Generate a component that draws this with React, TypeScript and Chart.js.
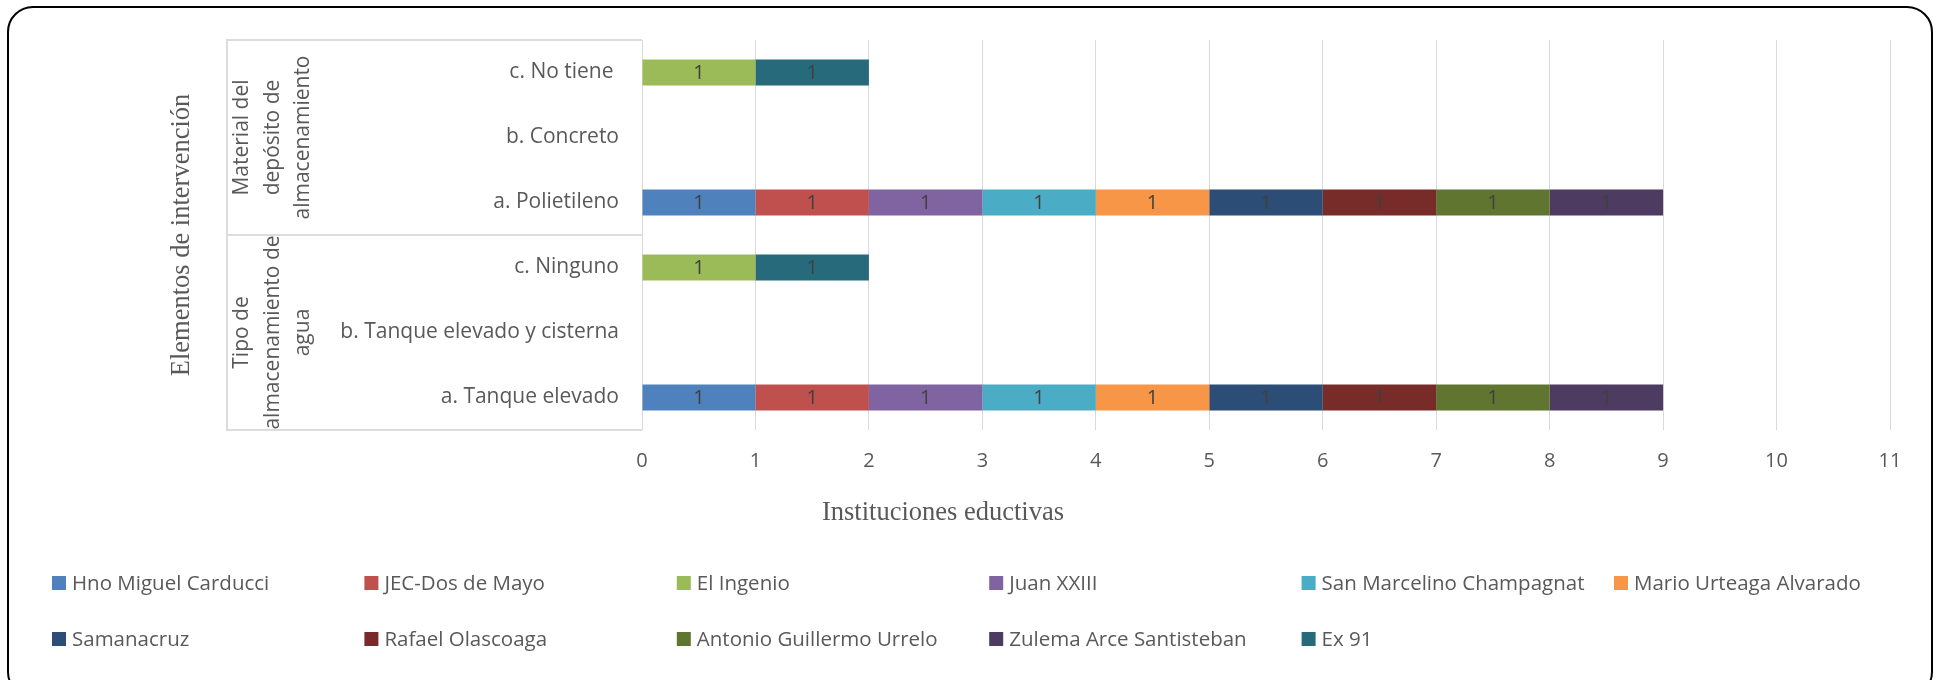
import React, { useEffect, useRef } from "react";
import { Chart, registerables } from "chart.js";

Chart.register(...registerables);

// ---- data ----
const categories = [
  "c. No tiene ",
  "b. Concreto",
  "a. Polietileno",
  "c. Ninguno",
  "b. Tanque elevado y cisterna",
  "a. Tanque elevado",
];
const groupLines1 = ["Material del", "depósito de", "almacenamiento"];
const groupLines2 = ["Tipo de", "almacenamiento de", "agua"];
const groupSizes = [3, 3];

const seriesNames = [
  "Hno Miguel Carducci",
  "JEC-Dos de Mayo",
  "El Ingenio",
  "Juan XXIII",
  "San Marcelino Champagnat",
  "Mario Urteaga Alvarado",
  "Samanacruz",
  "Rafael Olascoaga",
  "Antonio Guillermo Urrelo",
  "Zulema Arce Santisteban",
  "Ex 91",
];
const hnoMiguelCarducci = [null, null, 1, null, null, 1];
const jecDosDeMayo = [null, null, 1, null, null, 1];
const elIngenio = [1, null, null, 1, null, null];
const juanXXIII = [null, null, 1, null, null, 1];
const sanMarcelino = [null, null, 1, null, null, 1];
const marioUrteaga = [null, null, 1, null, null, 1];
const samanacruz = [null, null, 1, null, null, 1];
const rafaelOlascoaga = [null, null, 1, null, null, 1];
const antonioUrrelo = [null, null, 1, null, null, 1];
const zulemaArce = [null, null, 1, null, null, 1];
const ex91 = [1, null, null, 1, null, null];
const seriesValues = [
  hnoMiguelCarducci, jecDosDeMayo, elIngenio, juanXXIII, sanMarcelino,
  marioUrteaga, samanacruz, rafaelOlascoaga, antonioUrrelo, zulemaArce, ex91,
];
const seriesColors = [
  "#4F81BD", "#C0504D", "#9BBB59", "#8064A2", "#4BACC6", "#F79646",
  "#2C4D75", "#772C2A", "#5F7530", "#4D3B62", "#276A7C",
];
const xMin = 0;
const xMax = 11;
const xStep = 1;
const xTitle = "Instituciones eductivas";
const yTitle = "Elementos de intervención";

const SANS = "'Open Sans', 'Noto Sans', sans-serif";
const SERIF = "'Liberation Serif', 'DejaVu Serif', serif";
const TEXT = "#595959";

const overlayPlugin = {
  id: "overlay",
  afterDatasetsDraw(chart: any) {
    const ctx = chart.ctx;
    ctx.save();
    ctx.font = `20px ${SANS}`;
    ctx.fillStyle = "#404040";
    ctx.textAlign = "center";
    ctx.textBaseline = "middle";
    chart.data.datasets.forEach((ds: any, di: number) => {
      const meta = chart.getDatasetMeta(di);
      meta.data.forEach((el: any, i: number) => {
        const v = ds.data[i];
        if (v === null || v === undefined) return;
        ctx.fillText(String(v), (el.x + el.base) / 2, el.y + 1);
      });
    });
    ctx.restore();
  },
  afterDraw(chart: any) {
    const ctx = chart.ctx;
    const area = chart.chartArea;
    const ys = chart.scales.y;
    ctx.save();

    // table lines of the grouped category axis
    const tableLeft = 227;
    const bounds: number[] = [area.top];
    let idx = 0;
    groupSizes.forEach((n) => {
      idx += n;
      if (idx < categories.length) {
        bounds.push((ys.getPixelForValue(idx - 1) + ys.getPixelForValue(idx)) / 2);
      }
    });
    bounds.push(area.bottom);
    ctx.strokeStyle = "#dcdcdc";
    ctx.lineWidth = 2;
    ctx.beginPath();
    ctx.moveTo(tableLeft, area.top - 1);
    ctx.lineTo(tableLeft, area.bottom + 1);
    bounds.forEach((b) => {
      ctx.moveTo(tableLeft, b);
      ctx.lineTo(area.left, b);
    });
    ctx.stroke();

    // group labels (rotated, multi-line)
    ctx.fillStyle = TEXT;
    ctx.font = `21px ${SANS}`;
    ctx.textAlign = "center";
    ctx.textBaseline = "middle";
    const groups = [groupLines1, groupLines2];
    let start = 0;
    groups.forEach((lines, gi) => {
      const n = groupSizes[gi];
      const cy = (ys.getPixelForValue(start) + ys.getPixelForValue(start + n - 1)) / 2;
      start += n;
      ctx.save();
      ctx.translate(273, cy);
      ctx.rotate(-Math.PI / 2);
      lines.forEach((ln, li) => {
        ctx.fillText(ln, 0, (li - (lines.length - 1) / 2) * 30.5);
      });
      ctx.restore();
    });

    // axis titles
    ctx.font = `26.5px ${SERIF}`;
    ctx.fillStyle = TEXT;
    ctx.textAlign = "center";
    ctx.textBaseline = "alphabetic";
    ctx.fillText(xTitle, 943, 520);
    ctx.save();
    ctx.translate(189, (area.top + area.bottom) / 2);
    ctx.rotate(-Math.PI / 2);
    ctx.fillText(yTitle, 0, 0);
    ctx.restore();

    // legend in fixed columns
    ctx.font = `20.5px ${SANS}`;
    ctx.textAlign = "left";
    ctx.textBaseline = "middle";
    const colX0 = 52;
    const colW = 312.4;
    const rowY = [583, 639];
    const perRow = 6;
    chart.data.datasets.forEach((ds: any, i: number) => {
      const x = colX0 + (i % perRow) * colW;
      const y = rowY[Math.floor(i / perRow)];
      ctx.fillStyle = ds.backgroundColor;
      ctx.fillRect(x, y - 7, 14, 14);
      ctx.fillStyle = TEXT;
      ctx.fillText(ds.label, x + 20, y + 1);
    });

    ctx.restore();
  },
};

export default function App() {
  const ref = useRef<HTMLCanvasElement | null>(null);

  useEffect(() => {
    document.documentElement.style.overflow = "hidden";
    const canvas = ref.current;
    if (!canvas) return;
    const chart = new Chart(canvas, {
      type: "bar",
      data: {
        labels: categories,
        datasets: seriesNames.map((name, i) => ({
          label: name,
          data: seriesValues[i],
          backgroundColor: seriesColors[i],
          borderWidth: 0,
          categoryPercentage: 0.5,
          barPercentage: 0.8,
        })),
      },
      options: {
        indexAxis: "y",
        animation: false,
        responsive: false,
        maintainAspectRatio: false,
        devicePixelRatio: 1,
        layout: { padding: { left: 0, top: 40, right: 47, bottom: 0 } },
        plugins: {
          legend: { display: false },
          tooltip: { enabled: false },
          title: { display: false },
        },
        scales: {
          x: {
            type: "linear",
            stacked: true,
            min: xMin,
            max: xMax,
            ticks: {
              stepSize: xStep,
              padding: 19,
              color: TEXT,
              font: { family: SANS, size: 20 },
            },
            grid: { color: "#d9d9d9", lineWidth: 1, drawTicks: false },
            border: { display: false },
            afterFit: (s: any) => {
              s.height = 250;
            },
          },
          y: {
            type: "category",
            stacked: true,
            ticks: {
              padding: 23,
              color: TEXT,
              font: { family: SANS, size: 21 },
            },
            grid: { display: false, drawTicks: false },
            border: { display: false },
            afterFit: (s: any) => {
              s.width = 642;
            },
          },
        },
      },
      plugins: [overlayPlugin],
    } as any);
    return () => chart.destroy();
  }, []);

  return (
    <div>
      <div
        style={{
          position: "fixed",
          left: 7,
          top: 6,
          width: 1926,
          height: 692,
          boxSizing: "border-box",
          border: "2px solid #000",
          borderRadius: 26,
          background: "#fff",
        }}
      />
      <canvas
        ref={ref}
        width={1937}
        height={680}
        style={{ position: "fixed", left: 0, top: 0, width: 1937, height: 680 }}
      />
    </div>
  );
}
